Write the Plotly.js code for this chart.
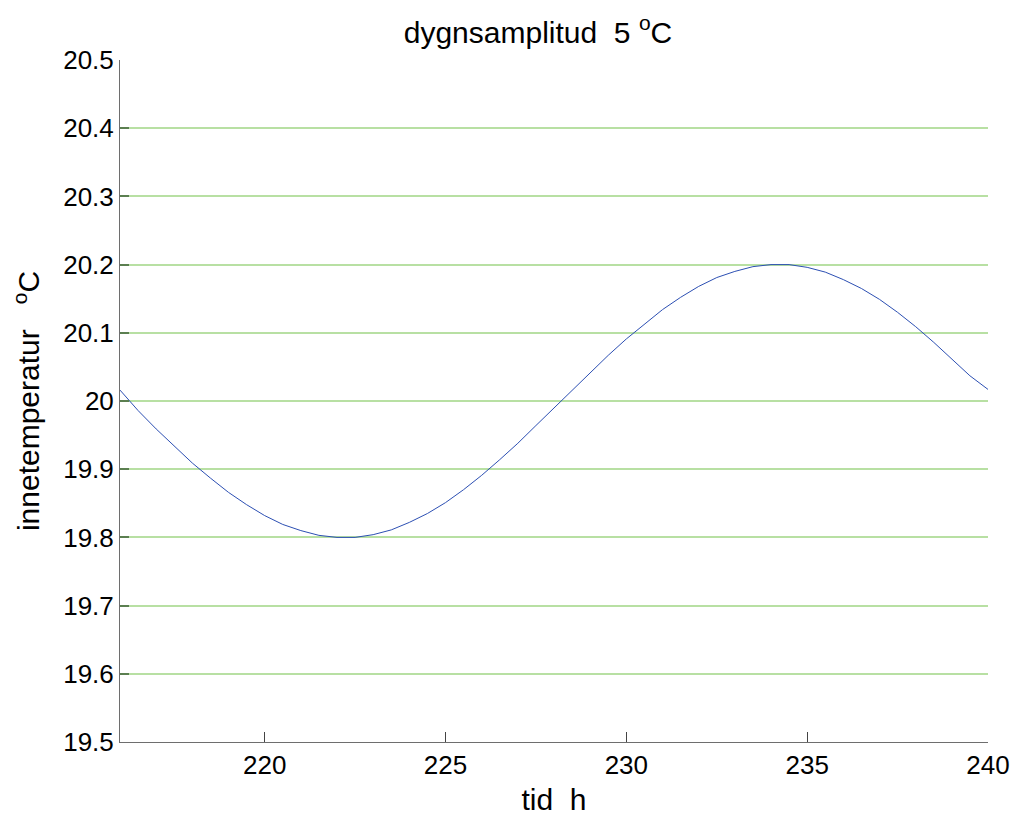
<!DOCTYPE html>
<html>
<head>
<meta charset="utf-8">
<script src="https://cdn.plot.ly/plotly-3.0.1.min.js"></script>
<style>html,body{margin:0;padding:0;background:#fff;}#chart{width:1011px;height:816px;}</style>
</head>
<body>
<div id="chart"></div>
<script>
// time (h)
const timeH = [216,216.5,217,217.5,218,218.5,219,219.5,220,220.5,221,221.5,222,222.5,223,223.5,224,224.5,225,225.5,226,226.5,227,227.5,228,228.5,229,229.5,230,230.5,231,231.5,232,232.5,233,233.5,234,234.5,235,235.5,236,236.5,237,237.5,238,238.5,239,239.5,240];
// indoor temperature (°C)
const innetemp = [20.016,19.986,19.959,19.934,19.909,19.887,19.866,19.848,19.832,19.819,19.810,19.803,19.800,19.800,19.804,19.811,19.822,19.835,19.851,19.870,19.891,19.914,19.938,19.964,19.990,20.016,20.042,20.067,20.091,20.113,20.134,20.152,20.168,20.181,20.190,20.197,20.200,20.200,20.196,20.189,20.178,20.165,20.149,20.130,20.109,20.086,20.062,20.037,20.017];
const xTicks = [220,225,230,235,240];
const yTicks = [19.5,19.6,19.7,19.8,19.9,20,20.1,20.2,20.3,20.4,20.5];
const yTickText = ['19.5','19.6','19.7','19.8','19.9','20','20.1','20.2','20.3','20.4','20.5'];

const NB = '\u00a0';
const font = 'Liberation Sans, Arial, sans-serif';
const traces = [
  {x: timeH, y: innetemp, type: 'scatter', mode: 'lines',
   line: {color: '#2c4fb3', width: 1}, hoverinfo: 'skip', showlegend: false}
];
const layout = {
  width: 1011, height: 816,
  margin: {l: 120, r: 23, t: 60, b: 74},
  paper_bgcolor: '#ffffff', plot_bgcolor: '#ffffff',
  showlegend: false,
  font: {family: font, color: '#000'},
  title: {text: 'dygnsamplitud' + NB + NB + '5 <sup>o</sup>C', font: {size: 30, family: font, color: '#000'},
          x: 538/1011, xanchor: 'center', xref: 'container', y: 1 - 32/816, yanchor: 'middle', yref: 'container'},
  xaxis: {range: [216, 240], tickvals: xTicks, ticks: 'inside', ticklen: 10, tickcolor: '#444', tickwidth: 1.2,
          showline: true, linecolor: '#6e6e6e', linewidth: 1, showgrid: false, zeroline: false,
          tickfont: {size: 26, family: font, color: '#000'},
          title: {text: 'tid' + NB + NB + 'h' + NB + NB + NB + NB + NB, font: {size: 30, family: font, color: '#000'}, standoff: 10}},
  yaxis: {range: [19.5, 20.5], tickvals: yTicks, ticktext: yTickText, ticks: 'inside', ticklen: 9, tickcolor: '#5b7f50', tickwidth: 2,
          showline: true, linecolor: '#6e6e6e', linewidth: 1, showgrid: true, gridcolor: '#b8e0a3', gridwidth: 2, zeroline: false,
          tickfont: {size: 26, family: font, color: '#000'},
          title: {text: NB + NB + NB + 'innetemperatur' + NB + NB + NB + '<sup>o</sup>C', font: {size: 30, family: font, color: '#000'}, standoff: 14}}
};
Plotly.newPlot('chart', traces, layout, {displayModeBar: false, staticPlot: true});
</script>
</body>
</html>
